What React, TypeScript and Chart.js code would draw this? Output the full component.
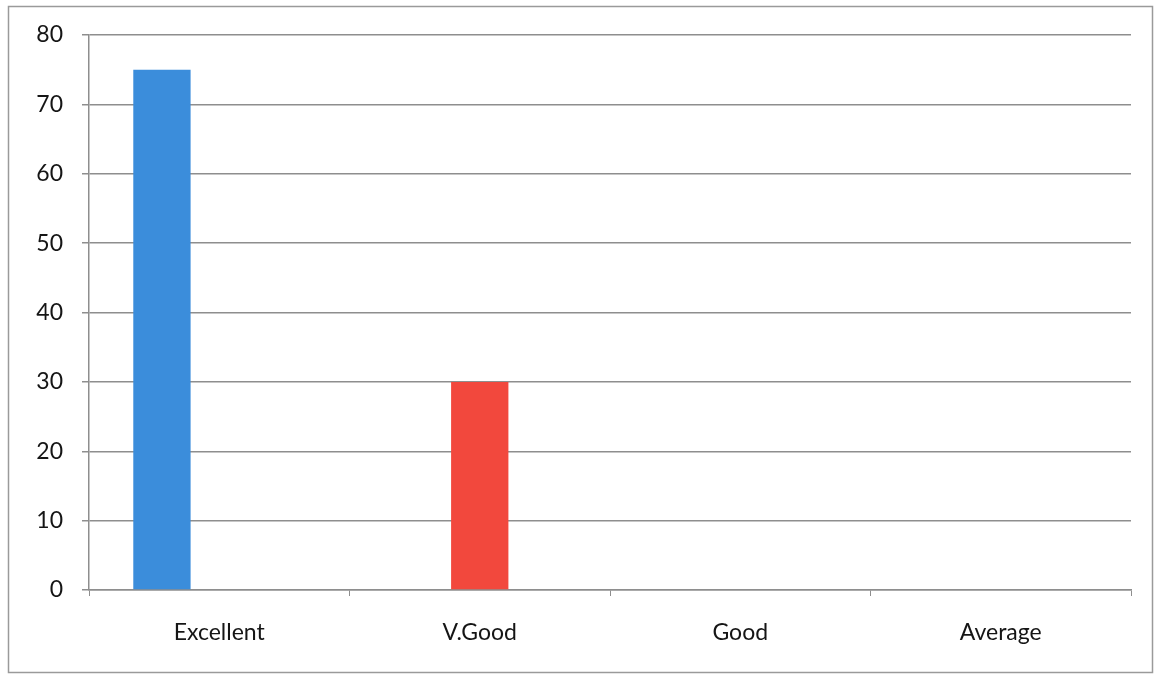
import React, { useEffect, useRef } from "react";
import { Chart, registerables } from "chart.js";

Chart.register(...registerables);

const categories = ["Excellent", "V.Good", "Good", "Average"];
const series1 = [75, 0, 0, 0];
const series2 = [0, 30, 0, 0];
const series3 = [0, 0, 0, 0];
const yTicks = [0, 10, 20, 30, 40, 50, 60, 70, 80];

const GRID = "#8e8e8e";
const FONT = "Lato";

const borderPlugin = {
  id: "outerBorder",
  beforeDraw(chart: any) {
    const ctx = chart.ctx;
    ctx.save();
    ctx.fillStyle = "#ffffff";
    ctx.fillRect(0, 0, chart.width, chart.height);
    ctx.strokeStyle = "#9a9a9a";
    ctx.lineWidth = 1.5;
    ctx.strokeRect(8.5, 6.5, chart.width - 11, chart.height - 9);
    ctx.restore();
  },
};

export default function App() {
  const ref = useRef<HTMLCanvasElement | null>(null);
  useEffect(() => {
    document.body.style.margin = "0";
    const chart = new Chart(ref.current!, {
      type: "bar",
      data: {
        labels: categories,
        datasets: [
          { label: "Series 1", data: series1, backgroundColor: "#3b8ddb" },
          { label: "Series 2", data: series2, backgroundColor: "#f2483d" },
          { label: "Series 3", data: series3, backgroundColor: "#8bc34a" },
        ],
      },
      options: {
        animation: false,
        responsive: true,
        maintainAspectRatio: false,
        datasets: { bar: { barPercentage: 1, categoryPercentage: 0.66, borderWidth: 0 } },
        layout: { padding: { left: 0, right: 24, top: 35, bottom: 0 } },
        plugins: { legend: { display: false }, tooltip: { enabled: false } },
        scales: {
          x: {
            grid: { drawOnChartArea: false, drawTicks: true, tickLength: 6, color: GRID, offset: true },
            border: { display: true, color: GRID, width: 1.5 },
            ticks: { color: "#151515", font: { family: FONT, size: 23 }, padding: 23 },
            afterFit(scale: any) { scale.height = 85; },
          },
          y: {
            min: 0,
            max: 80,
            afterBuildTicks(scale: any) { scale.ticks = yTicks.map((v) => ({ value: v })); },
            grid: { color: GRID, lineWidth: 1.5, tickLength: 7, drawTicks: true },
            border: { display: true, color: GRID, width: 1.5 },
            ticks: { color: "#151515", font: { family: FONT, size: 23 }, padding: 19 },
            afterFit(scale: any) { scale.width = 89; },
          },
        },
      },
      plugins: [borderPlugin],
    });
    return () => chart.destroy();
  }, []);
  return (
    <div style={{ position: "fixed", left: 0, top: 0, width: 1155, height: 675 }}>
      <canvas ref={ref} />
    </div>
  );
}
